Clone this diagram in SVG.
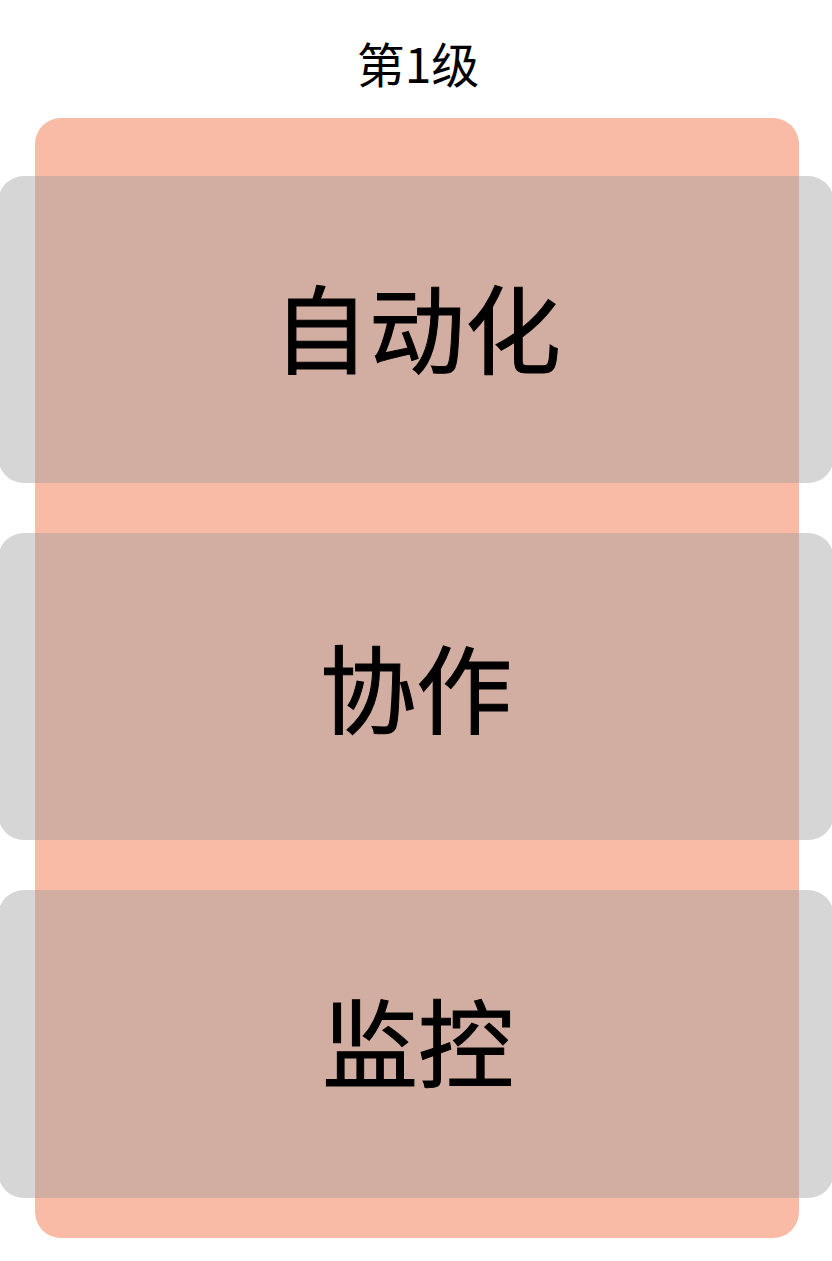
<svg xmlns="http://www.w3.org/2000/svg" width="832" height="1261" viewBox="0 0 832 1261">
<style>
.t{font-family:"Noto Sans CJK SC","Noto Sans",sans-serif;fill:#000;text-anchor:middle;stroke:#000;stroke-width:1}
.title{stroke:none}
.band{fill:#9d9d9d;fill-opacity:0.42}
</style>
<rect width="832" height="1261" fill="#ffffff"/>
<g id="level1">
<rect x="35" y="118" width="764" height="1120" rx="26" fill="#f9bba5"/>
<text class="t title" x="418" y="83" font-size="48">第1级</text>
</g>
<g id="node-automation">
<rect class="band" x="-2" y="176" width="836" height="307" rx="26"/>
<text class="t" x="417" y="366" font-size="96">自动化</text>
</g>
<g id="node-collab">
<rect class="band" x="-2" y="533" width="836" height="307" rx="26"/>
<text class="t" x="416" y="726" font-size="96">协作</text>
</g>
<g id="node-monitor">
<rect class="band" x="-2" y="890" width="836" height="308" rx="26"/>
<text class="t" x="418" y="1080" font-size="96">监控</text>
</g>
<g id="connectors"/>
</svg>
